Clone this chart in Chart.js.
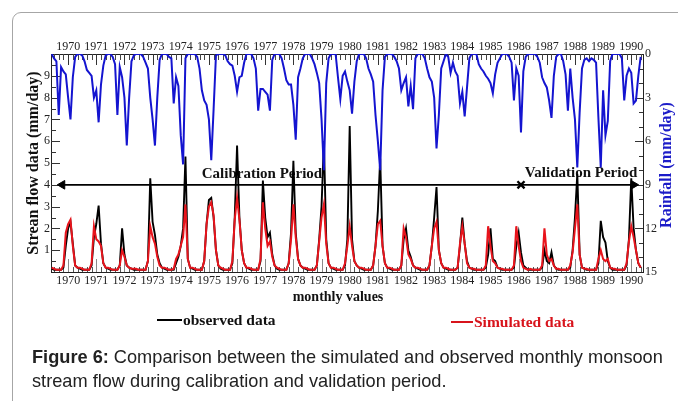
<!DOCTYPE html>
<html><head><meta charset="utf-8">
<script src="https://cdn.jsdelivr.net/npm/chart.js@4.4.0/dist/chart.umd.min.js"></script>
<style>
html,body{margin:0;padding:0;background:#fff;}
#wrap{position:relative;width:678px;height:401px;overflow:hidden;}
#box{position:absolute;left:12px;top:12px;width:720px;height:440px;border:1px solid #a6a6a6;border-radius:9px;box-sizing:border-box;}
#c{position:absolute;left:0;top:0;}
.t{position:absolute;white-space:nowrap;font-family:'Liberation Serif','Times New Roman',serif;font-weight:bold;}
.ln{position:absolute;height:2px;}
#cap{position:absolute;left:32px;top:345px;font-family:'Liberation Sans',Arial,sans-serif;font-size:18.2px;line-height:24px;color:#222;white-space:nowrap;}
</style></head><body>
<div id="wrap">
<div id="box"></div>
<canvas id="c" width="678" height="401"></canvas>
<div class="t" style="left:338px;top:289px;font-size:14px;line-height:16px;transform:translateX(-50%);color:#111;">monthly values</div>
<div class="ln" style="left:157px;top:319px;width:25px;background:#000;"></div>
<div class="t" style="left:183px;top:311px;font-size:15.5px;line-height:18px;color:#111;">observed data</div>
<div class="ln" style="left:451px;top:321px;width:22px;background:#d8141c;"></div>
<div class="t" style="left:474px;top:313px;font-size:15.5px;line-height:18px;color:#d8141c;">Simulated data</div>
<div id="cap"><b>Figure 6:</b> Comparison between the simulated and observed monthly monsoon<br>stream flow during calibration and validation period.</div>
</div>
<script>
// ---- data (monthly, Jan 1970 .. Dec 1990) ----
const years = [1970,1971,1972,1973,1974,1975,1976,1977,1978,1979,1980,1981,1982,1983,1984,1985,1986,1987,1988,1989,1990];
const flowTicks = [1,2,3,4,5,6,7,8,9];
const rainTicks = [0,3,6,9,12,15];
const observed = [
0.15,0.1,0.1,0.1,0.1,0.2,1.2,2.0,2.3,1.3,0.3,0.2,
0.15,0.1,0.1,0.1,0.1,0.3,1.6,2.2,3.05,1.3,0.4,0.2,
0.15,0.1,0.1,0.1,0.1,0.3,2.0,0.8,0.3,0.2,0.15,0.1,
0.1,0.1,0.1,0.1,0.1,0.5,4.3,2.3,1.7,0.8,0.4,0.2,
0.15,0.1,0.1,0.1,0.1,0.4,0.7,1.2,2.0,5.3,0.6,0.2,
0.15,0.1,0.1,0.1,0.1,0.5,2.2,3.3,3.4,2.5,1.0,0.3,
0.15,0.1,0.1,0.1,0.1,0.4,2.5,5.8,2.5,1.0,0.4,0.2,
0.15,0.1,0.1,0.1,0.1,0.5,4.2,2.5,1.6,1.8,0.8,0.3,
0.15,0.1,0.1,0.1,0.1,0.4,1.8,5.1,1.8,0.6,0.3,0.2,
0.15,0.1,0.1,0.1,0.1,0.3,1.5,3.0,6.0,1.5,0.4,0.2,
0.15,0.1,0.1,0.1,0.1,0.3,1.5,6.7,1.5,0.5,0.3,0.2,
0.15,0.1,0.1,0.1,0.1,0.3,1.2,2.8,5.2,1.2,0.4,0.2,
0.15,0.1,0.1,0.1,0.1,0.3,1.5,2.0,1.0,0.7,0.3,0.2,
0.15,0.1,0.1,0.1,0.1,0.3,1.2,2.5,3.9,1.0,0.4,0.2,
0.15,0.1,0.1,0.1,0.1,0.2,1.2,2.5,1.3,0.5,0.2,0.15,
0.1,0.1,0.1,0.1,0.1,0.2,0.8,2.0,0.6,0.5,0.2,0.15,
0.1,0.1,0.1,0.1,0.1,0.2,1.2,1.8,0.9,0.3,0.2,0.1,
0.1,0.1,0.1,0.1,0.1,0.2,1.0,0.5,0.4,0.9,0.3,0.15,
0.1,0.1,0.1,0.1,0.1,0.2,1.0,2.5,4.5,0.8,0.2,0.15,
0.1,0.1,0.1,0.1,0.1,0.4,2.35,1.6,1.35,0.5,0.2,0.1,
0.1,0.1,0.1,0.1,0.1,0.3,1.5,4.3,2.0,1.0,0.4,0.2
];
const simulated = [
0.2,0.15,0.1,0.1,0.1,0.3,1.8,2.2,2.4,1.2,0.3,0.2,
0.2,0.15,0.1,0.1,0.1,0.4,2.1,1.5,1.4,1.2,0.4,0.2,
0.2,0.15,0.1,0.1,0.1,0.3,1.0,0.7,0.3,0.2,0.15,0.15,
0.15,0.1,0.1,0.1,0.1,0.5,2.1,1.6,1.3,0.7,0.3,0.2,
0.2,0.15,0.1,0.1,0.15,0.6,0.8,1.2,1.6,3.1,0.6,0.2,
0.2,0.15,0.1,0.1,0.1,0.5,2.2,3.0,3.2,2.6,1.0,0.3,
0.2,0.15,0.1,0.1,0.1,0.5,2.4,3.4,2.4,1.0,0.4,0.2,
0.2,0.15,0.1,0.1,0.1,0.6,3.2,2.0,1.2,1.4,0.7,0.3,
0.2,0.15,0.1,0.1,0.1,0.4,1.5,3.1,1.6,0.6,0.3,0.2,
0.2,0.15,0.1,0.1,0.1,0.3,1.4,2.5,3.1,1.3,0.4,0.2,
0.2,0.15,0.1,0.1,0.1,0.4,1.2,2.1,1.2,0.5,0.3,0.2,
0.2,0.15,0.1,0.1,0.1,0.3,1.2,2.2,2.35,1.2,0.4,0.2,
0.2,0.15,0.1,0.1,0.1,0.3,2.0,1.6,0.8,0.6,0.3,0.2,
0.2,0.15,0.1,0.1,0.1,0.3,1.2,2.0,2.3,1.0,0.4,0.2,
0.2,0.15,0.1,0.1,0.1,0.2,1.3,2.1,1.3,0.4,0.2,0.15,
0.15,0.1,0.1,0.1,0.1,0.3,2.1,1.2,0.5,0.4,0.2,0.15,
0.15,0.1,0.1,0.1,0.1,0.3,2.1,1.2,0.5,0.2,0.15,0.1,
0.15,0.1,0.1,0.1,0.1,0.3,2.0,0.8,0.5,0.6,0.3,0.15,
0.15,0.1,0.1,0.1,0.1,0.3,0.9,2.0,3.1,0.8,0.2,0.15,
0.15,0.1,0.1,0.1,0.1,0.6,1.0,0.6,0.5,0.6,0.2,0.15,
0.15,0.1,0.1,0.1,0.1,0.4,1.4,2.1,1.6,1.0,0.4,0.2
];
const rainfall = [
0,0.3,0.5,4.2,0.9,1.2,1.4,3.0,4.5,1.6,0.2,0,
0,0.1,0.5,1.1,1.3,1.5,3.0,2.5,4.7,2.1,0.8,0.1,
0,0,0.2,0.7,4.2,0.9,1.6,3.0,6.3,3.0,0.5,0.1,
0,0,0,0.2,0.6,1.0,3.0,4.5,6.3,3.0,0.4,0,
0,0,0.2,0.3,3.4,1.6,2.2,5.6,7.6,0.3,0,0,
0,0,0.2,1.0,2.5,3.2,3.5,4.5,7.3,3.8,0.1,0,
0,0,0.1,0.5,0.7,0.8,1.5,2.6,1.6,1.5,0.6,0,
0,0,0.3,1.0,3.9,2.4,2.4,2.6,2.8,3.9,0.4,0,
0,0,0.3,1.0,1.8,2.1,2.1,3.5,5.9,1.6,1.0,0.3,
0,0,0,0.3,0.7,1.3,2.0,4.5,8.0,2.0,0.3,0,
0,0,1.6,3.1,1.5,1.2,1.9,2.5,4.1,1.9,0.5,0,
0,0,0.3,1.0,1.4,1.9,4.2,6.0,8.0,2.5,0.2,0,
0,0,0.2,0.5,1.0,2.5,2.0,1.6,3.6,2.2,3.8,0.3,
0,0,0,0.3,1.0,1.6,1.9,3.0,6.5,4.2,1.0,0.5,
0,0.2,1.3,0.6,1.2,1.5,3.4,2.6,4.3,2.3,0.3,0,
0,0,0.7,1.0,1.2,1.5,1.7,2.0,2.7,1.4,0.6,0.3,
0,0,0,0.2,0.6,3.2,1.0,1.5,5.4,1.2,0.2,0,
0,0,0,0.2,0.6,1.6,2.0,2.3,3.2,4.4,1.5,0.2,
0,0,0.5,1.4,3.9,1.0,3.0,4.5,7.8,4.0,1.0,0.4,
0.3,0.5,0.3,0.4,0.6,4.4,7.8,2.5,5.6,4.6,0.5,0,
0,0,0,0.3,3.2,1.5,1.0,1.3,3.4,3.2,1.5,0.2
];
// period annotation: arrow ends / divider (month index) and level (stream flow units)
const periodMarks = [4.5, 200, 248];
const periodLevel = 4;
const periodLabels = ['Calibration Period', 'Validation Period'];
const periodLabelX = [89.6, 225.6];
const periodLabelY = [4.5, 4.55];

const yearPos = years.map((y, k) => 12 * k + 7);
const serif = "'Liberation Serif','Times New Roman',serif";
const pts = arr => arr.map((v, i) => ({x: i, y: v}));

const decor = {
  id: 'decor',
  beforeDatasetsDraw(chart) {
    const {ctx, chartArea: a, scales} = chart;
    const x = scales.x, y = scales.y, y2 = scales.y2;
    ctx.save();
    ctx.lineWidth = 1;
    const vline = (px, y0, y1, col) => { ctx.strokeStyle = col; ctx.beginPath(); ctx.moveTo(Math.round(px) + 0.5, y0); ctx.lineTo(Math.round(px) + 0.5, y1); ctx.stroke(); };
    const hline = (py, x0, x1, col) => { ctx.strokeStyle = col; ctx.beginPath(); ctx.moveTo(x0, Math.round(py) + 0.5); ctx.lineTo(x1, Math.round(py) + 0.5); ctx.stroke(); };
    for (let m = 1; m < 252; m += 2) {
      const px = x.getPixelForValue(m);
      vline(px, a.top, a.top + 6, '#444');
      vline(px, a.bottom - 5, a.bottom, '#555');
    }
    yearPos.forEach(v => {
      const px = x.getPixelForValue(v);
      vline(px, a.top, a.top + 11, '#333');
      vline(px, a.bottom - 13, a.bottom, '#8a8a8a');
    });
    for (let v = 0.5; v < 10; v += 0.5) {
      const py = y.getPixelForValue(v);
      const major = Number.isInteger(v);
      hline(py, a.left, a.left + (major ? 9 : 5), '#333');
    }
    for (let v = 1; v < 15; v += 1) {
      const py = y2.getPixelForValue(v);
      const major = v % 3 === 0;
      hline(py, a.right - (major ? 8 : 4), a.right, '#333');
    }
    ctx.fillStyle = '#111';
    ctx.font = 'bold 15px ' + serif;
    ctx.textAlign = 'center';
    ctx.textBaseline = 'middle';
    periodLabels.forEach((t, i) => ctx.fillText(t, x.getPixelForValue(periodLabelX[i]), y.getPixelForValue(periodLabelY[i])));
    ctx.restore();
  },
  afterDraw(chart) {
    const {ctx, chartArea: a} = chart;
    ctx.save();
    ctx.translate(chart.scales.y2.right - 11, (a.top + a.bottom) / 2 + 2);
    ctx.rotate(-Math.PI / 2);
    ctx.fillStyle = '#1c1cc8';
    ctx.font = 'bold 16px ' + serif;
    ctx.textAlign = 'center';
    ctx.textBaseline = 'middle';
    ctx.fillText('Rainfall (mm/day)', 0, 0);
    ctx.restore();
  }
};

const xAxis = (pos, h, pad) => ({
  type: 'linear', position: pos, min: -0.3, max: 252,
  afterBuildTicks: s => { s.ticks = yearPos.map(v => ({value: v})); },
  ticks: {autoSkip: false, maxRotation: 0, padding: pad, color: '#222', font: {family: serif, size: 12},
    callback: (v, i) => String(years[i])},
  grid: {display: true, drawOnChartArea: false, drawTicks: false},
  border: {display: true, color: '#222', width: 1},
  afterFit: s => { s.height = h; }
});

new Chart(document.getElementById('c'), {
  type: 'line',
  data: {
    datasets: [
      {label: 'Rainfall', data: pts(rainfall), yAxisID: 'y2', xAxisID: 'x', borderColor: '#1414d0', borderWidth: 2, pointRadius: 0, tension: 0, order: 0},
      {label: 'Simulated data', data: pts(simulated), yAxisID: 'y', xAxisID: 'x', borderColor: '#e8141c', borderWidth: 2, pointRadius: 0, tension: 0, order: 1},
      {label: 'observed data', data: pts(observed), yAxisID: 'y', xAxisID: 'x', borderColor: '#000', borderWidth: 1.9, pointRadius: 0, tension: 0, order: 2},
      {label: 'period', data: periodMarks.map(v => ({x: v, y: periodLevel})), yAxisID: 'y', xAxisID: 'x',
        borderColor: '#000', borderWidth: 1.8, tension: 0, order: 3,
        pointStyle: ['triangle', 'crossRot', 'triangle'], pointRotation: [-90, 0, 90],
        pointRadius: [5, 5, 5], pointBackgroundColor: '#000', pointBorderColor: '#000', pointBorderWidth: [1, 2.4, 1]}
    ]
  },
  options: {
    responsive: false, animation: false, events: [],
    layout: {padding: 0},
    plugins: {legend: {display: false}, tooltip: {enabled: false}},
    scales: {
      x: xAxis('bottom', 129, 2),
      x2: xAxis('top', 54, 0),
      y: {type: 'linear', position: 'left', min: 0, max: 10,
        afterBuildTicks: s => { s.ticks = flowTicks.map(v => ({value: v})); },
        ticks: {padding: 1, color: '#222', font: {family: serif, size: 12}},
        grid: {display: true, drawOnChartArea: false, drawTicks: false},
        border: {display: true, color: '#222', width: 1},
        title: {display: true, text: 'Strean flow data (mm/day)', color: '#111', font: {family: serif, size: 16, weight: 'bold'}, padding: {top: 24, bottom: 0}},
        afterFit: s => { s.width = 51; }},
      y2: {type: 'linear', position: 'right', min: 0, max: 15, reverse: true,
        afterBuildTicks: s => { s.ticks = rainTicks.map(v => ({value: v})); },
        ticks: {padding: 2, color: '#222', font: {family: serif, size: 12}},
        grid: {display: true, drawOnChartArea: false, drawTicks: false},
        border: {display: true, color: '#222', width: 1},
        afterFit: s => { s.width = 35; }}
    }
  },
  plugins: [decor]
});
</script>
</body></html>
